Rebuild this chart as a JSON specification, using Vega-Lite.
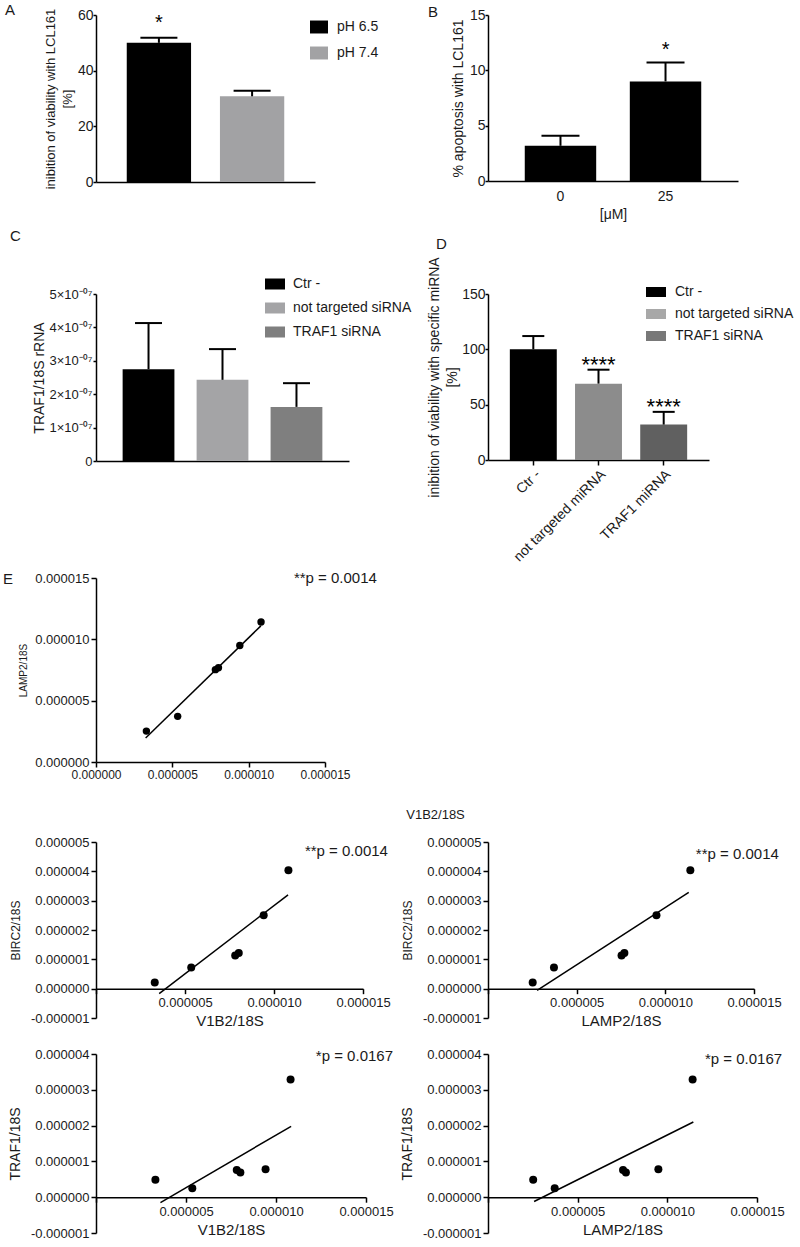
{
  "$schema": "https://vega.github.io/schema/vega-lite/v6.json",
  "padding": {"left": 3, "top": 3, "right": 0, "bottom": 0},
  "background": "#ffffff",
  "columns": 2,
  "spacing": {"row": 0, "column": 122},
  "bounds": "flush",
  "align": "each",
  "resolve": {
    "scale": {"color": "independent", "fill": "independent"},
    "legend": {"color": "independent", "fill": "independent"}
  },
  "datasets": {
    "samples": [
      {"sample": 1, "V1B2": 3.3e-6, "LAMP2": 2.52e-6, "BIRC2": 2.1e-7, "TRAF1": 4.9e-7},
      {"sample": 2, "V1B2": 5.35e-6, "LAMP2": 3.72e-6, "BIRC2": 7.2e-7, "TRAF1": 2.5e-7},
      {"sample": 3, "V1B2": 7.82e-6, "LAMP2": 7.53e-6, "BIRC2": 1.13e-6, "TRAF1": 7.6e-7},
      {"sample": 4, "V1B2": 8.02e-6, "LAMP2": 7.69e-6, "BIRC2": 1.22e-6, "TRAF1": 6.9e-7},
      {"sample": 5, "V1B2": 9.42e-6, "LAMP2": 9.5e-6, "BIRC2": 2.5e-6, "TRAF1": 7.8e-7},
      {"sample": 6, "V1B2": 1.081e-5, "LAMP2": 1.141e-5, "BIRC2": 4.04e-6, "TRAF1": 3.29e-6}
    ],
    "fits": [
      {"panel": "LAMP2~V1B2", "x": 3.25e-6, "y": 1.95e-6},
      {"panel": "LAMP2~V1B2", "x": 1.08e-5, "y": 1.11e-5},
      {"panel": "BIRC2~V1B2", "x": 3.55e-6, "y": -1.7e-7},
      {"panel": "BIRC2~V1B2", "x": 1.079e-5, "y": 3.2e-6},
      {"panel": "BIRC2~LAMP2", "x": 2.77e-6, "y": -6e-8},
      {"panel": "BIRC2~LAMP2", "x": 1.132e-5, "y": 3.28e-6},
      {"panel": "TRAF1~V1B2", "x": 3.58e-6, "y": -1.5e-7},
      {"panel": "TRAF1~V1B2", "x": 1.084e-5, "y": 1.98e-6},
      {"panel": "TRAF1~LAMP2", "x": 2.57e-6, "y": -1.2e-7},
      {"panel": "TRAF1~LAMP2", "x": 1.145e-5, "y": 2.1e-6}
    ]
  },
  "concat": [
    {
      "width": 219, "height": 167,
      "title": {"text": "A", "dx": -91, "offset": -10},
      "data": {"values": [
        {"group": "pH 6.5", "mean": 50.0, "upper": 51.8, "sig": "*"},
        {"group": "pH 7.4", "mean": 30.8, "upper": 32.8, "sig": ""}
      ]},
      "encoding": {
        "x": {"field": "group", "type": "nominal", "sort": null, "title": null,
              "scale": {"paddingInner": 0.31, "paddingOuter": 0.33},
              "axis": {"labels": false, "ticks": false}}
      },
      "layer": [
        {"mark": {"type": "bar", "opacity": 1},
         "encoding": {
           "y": {"field": "mean", "type": "quantitative", "title": ["inibition of viability with LCL161", "[%]"],
                 "scale": {"domain": [0, 60], "nice": false},
                 "axis": {"values": [0, 20, 40, 60], "tickCount": 10, "labelOverlap": false, "labelFontSize": 14, "titleFontSize": 13, "titleLineHeight": 17, "titlePadding": 3, "tickSize": 3, "labelPadding": 0}},
           "color": {"field": "group", "type": "nominal", "sort": null,
                     "scale": {"range": ["#000000", "#a2a2a4"]},
                     "legend": {"title": null, "orient": "none", "legendX": 214, "legendY": 3, "symbolType": "M-1,-0.72H1V0.72H-1Z", "symbolSize": 324, "labelOffset": 9, "rowPadding": 10, "symbolOpacity": 1}}
         }},
        {"mark": {"type": "rule", "color": "#000000", "strokeWidth": 2, "opacity": 1},
         "encoding": {"y": {"field": "mean", "type": "quantitative", "title": ["inibition of viability with LCL161", "[%]"]}, "y2": {"field": "upper"}}},
        {"mark": {"type": "tick", "color": "#000000", "thickness": 2, "size": 37, "opacity": 1},
         "encoding": {"y": {"field": "upper", "type": "quantitative", "title": ["inibition of viability with LCL161", "[%]"]}}},
        {"mark": {"type": "text", "baseline": "alphabetic", "dy": -9, "fontSize": 20, "color": "#000000"},
         "encoding": {"y": {"field": "upper", "type": "quantitative", "title": ["inibition of viability with LCL161", "[%]"]}, "text": {"field": "sig"}}}
      ]
    },
    {
      "width": 250, "height": 166,
      "title": {"text": "B", "dx": -60, "offset": -12},
      "data": {"values": [
        {"dose": "0", "mean": 3.18, "upper": 4.09, "sig": ""},
        {"dose": "25", "mean": 9.0, "upper": 10.7, "sig": "*"}
      ]},
      "encoding": {
        "x": {"field": "dose", "type": "nominal", "sort": null, "title": "[μM]",
              "scale": {"paddingInner": 0.32, "paddingOuter": 0.35},
              "axis": {"labelAngle": 0, "ticks": false, "labelFontSize": 14, "titleFontSize": 14, "labelPadding": 8, "titlePadding": 4}}
      },
      "layer": [
        {"mark": {"type": "bar", "color": "#000000", "opacity": 1},
         "encoding": {
           "y": {"field": "mean", "type": "quantitative", "title": "% apoptosis with LCL161",
                 "scale": {"domain": [0, 15], "nice": false},
                 "axis": {"values": [0, 5, 10, 15], "tickCount": 10, "labelOverlap": false, "labelFontSize": 14, "titleFontSize": 14, "titlePadding": 4, "tickSize": 3, "labelPadding": 0}}
         }},
        {"mark": {"type": "rule", "color": "#000000", "strokeWidth": 2, "opacity": 1},
         "encoding": {"y": {"field": "mean", "type": "quantitative", "title": "% apoptosis with LCL161"}, "y2": {"field": "upper"}}},
        {"mark": {"type": "tick", "color": "#000000", "thickness": 2, "size": 38, "opacity": 1},
         "encoding": {"y": {"field": "upper", "type": "quantitative", "title": "% apoptosis with LCL161"}}},
        {"mark": {"type": "text", "baseline": "alphabetic", "dy": -6.5, "fontSize": 20, "color": "#000000"},
         "encoding": {"y": {"field": "upper", "type": "quantitative", "title": "% apoptosis with LCL161"}, "text": {"field": "sig"}}}
      ]
    },
    {"width": 1, "height": 112, "data": {"values": []}, "mark": "point"},
    {"width": 1, "height": 112, "data": {"values": []}, "mark": "point"},
    {
      "width": 253, "height": 167,
      "title": {"text": "C", "dx": -86, "offset": 30},
      "data": {"values": [
        {"group": "Ctr -", "mean": 2.75e-7, "upper": 4.13e-7},
        {"group": "not targeted siRNA", "mean": 2.43e-7, "upper": 3.35e-7},
        {"group": "TRAF1 siRNA", "mean": 1.62e-7, "upper": 2.33e-7}
      ]},
      "encoding": {
        "x": {"field": "group", "type": "nominal", "sort": null, "title": null,
              "scale": {"paddingInner": 0.3, "paddingOuter": 0.36},
              "axis": {"labels": false, "ticks": false}}
      },
      "layer": [
        {"mark": {"type": "bar", "opacity": 1},
         "encoding": {
           "y": {"field": "mean", "type": "quantitative", "title": "TRAF1/18S rRNA",
                 "scale": {"domain": [0, 5e-7], "nice": false},
                 "axis": {"values": [0, 1e-7, 2e-7, 3e-7, 4e-7, 5e-7], "tickCount": 10, "labelOverlap": false, "labelExpr": "datum.value == 0 ? '0' : format(round(datum.value * 1e7), 'd') + '×10⁻⁰⁷'", "labelFontSize": 13, "titleFontSize": 14, "titlePadding": 3, "tickSize": 3, "labelPadding": 1}},
           "color": {"field": "group", "type": "nominal", "sort": null,
                     "scale": {"range": ["#000000", "#a4a4a6", "#7f7f7f"]},
                     "legend": {"title": null, "orient": "none", "legendX": 169, "legendY": -20, "symbolType": "M-1,-0.55H1V0.55H-1Z", "symbolSize": 400, "labelOffset": 8, "rowPadding": 7, "symbolOpacity": 1}}
         }},
        {"mark": {"type": "rule", "color": "#000000", "strokeWidth": 2, "opacity": 1},
         "encoding": {"y": {"field": "mean", "type": "quantitative", "title": "TRAF1/18S rRNA"}, "y2": {"field": "upper"}}},
        {"mark": {"type": "tick", "color": "#000000", "thickness": 2, "size": 27, "opacity": 1},
         "encoding": {"y": {"field": "upper", "type": "quantitative", "title": "TRAF1/18S rRNA"}}}
      ]
    },
    {
      "width": 221, "height": 166,
      "title": {"text": "D", "dx": -52, "offset": 5},
      "layer": [
        {
          "data": {"values": [
            {"cond": "Ctr -", "mean": 100, "upper": 112, "sig": ""},
            {"cond": "not targeted miRNA", "mean": 69, "upper": 81.6, "sig": "****"},
            {"cond": "TRAF1 miRNA", "mean": 32, "upper": 43.5, "sig": "****"}
          ]},
          "encoding": {
            "x": {"field": "cond", "type": "nominal", "sort": null, "title": null,
                  "scale": {"paddingInner": 0.28, "paddingOuter": 0.335},
                  "axis": {"labelAngle": -45, "labelFontSize": 14, "tickSize": 5, "labelPadding": 2}}
          },
          "layer": [
            {"mark": {"type": "bar", "opacity": 1},
             "encoding": {
               "y": {"field": "mean", "type": "quantitative", "title": ["inibition of viability with specific miRNA", "[%]"],
                     "scale": {"domain": [0, 150], "nice": false},
                     "axis": {"values": [0, 50, 100, 150], "tickCount": 10, "labelOverlap": false, "labelFontSize": 14, "titleFontSize": 14, "titleLineHeight": 18, "titlePadding": 2, "tickSize": 3, "labelPadding": 0}},
               "fill": {"field": "cond", "type": "nominal", "sort": null,
                        "scale": {"range": ["#000000", "#8c8c8c", "#606060"]}, "legend": null}
             }},
            {"mark": {"type": "rule", "color": "#000000", "strokeWidth": 2, "opacity": 1},
             "encoding": {"y": {"field": "mean", "type": "quantitative", "title": ["inibition of viability with specific miRNA", "[%]"]}, "y2": {"field": "upper"}}},
            {"mark": {"type": "tick", "color": "#000000", "thickness": 2, "size": 22, "opacity": 1},
             "encoding": {"y": {"field": "upper", "type": "quantitative", "title": ["inibition of viability with specific miRNA", "[%]"]}}},
            {"mark": {"type": "text", "baseline": "alphabetic", "dy": 2, "fontSize": 22, "color": "#000000"},
             "encoding": {"y": {"field": "upper", "type": "quantitative", "title": ["inibition of viability with specific miRNA", "[%]"]}, "text": {"field": "sig"}}}
          ]
        },
        {
          "data": {"values": [{"legend": "Ctr -"}, {"legend": "not targeted siRNA"}, {"legend": "TRAF1 siRNA"}]},
          "mark": {"type": "point", "filled": true, "opacity": 0},
          "encoding": {
            "color": {"field": "legend", "type": "nominal", "sort": null,
                      "scale": {"range": ["#000000", "#a8a8a8", "#787878"]},
                      "legend": {"title": null, "orient": "none", "legendX": 158, "legendY": -12, "symbolType": "M-1,-0.5H1V0.5H-1Z", "symbolSize": 400, "labelOffset": 9, "rowPadding": 5, "symbolOpacity": 1}}
          }
        }
      ]
    },
    {"width": 1, "height": 117, "data": {"values": []}, "mark": "point"},
    {"width": 1, "height": 1, "data": {"values": []}, "mark": "point"},
    {
      "width": 229, "height": 184,
      "title": {"text": "E", "dx": -93, "offset": -16},
      "layer": [
        {"data": {"name": "samples"},
         "mark": {"type": "point", "filled": true, "color": "#000000", "size": 55, "opacity": 1},
         "encoding": {
           "x": {"field": "V1B2", "type": "quantitative", "title": "V1B2/18S",
                 "scale": {"domain": [0, 1.5e-5], "nice": false, "zero": false},
                 "axis": {"values": [0, 5e-6, 1e-5, 1.5e-5], "tickCount": 10, "labelOverlap": false, "format": ".6f", "labelFontSize": 12, "titleFontSize": 13, "titleX": 339, "titleY": 52, "titleAlign": "center", "titleBaseline": "middle", "titleAngle": 0}},
           "y": {"field": "LAMP2", "type": "quantitative", "title": "LAMP2/18S",
                 "scale": {"domain": [0, 1.5e-5], "nice": false, "zero": false},
                 "axis": {"values": [0, 5e-6, 1e-5, 1.5e-5], "tickCount": 10, "labelOverlap": false, "format": ".6f", "labelFontSize": 13, "titleFontSize": 10, "titlePadding": 6}}
         }},
        {"data": {"name": "fits"}, "transform": [{"filter": "datum.panel === 'LAMP2~V1B2'"}],
         "mark": {"type": "line", "color": "#000000", "strokeWidth": 1.5},
         "encoding": {"x": {"field": "x", "type": "quantitative", "title": "V1B2/18S"}, "y": {"field": "y", "type": "quantitative", "title": "LAMP2/18S"}}},
        {"data": {"values": [{"label": "**p = 0.0014"}]},
         "mark": {"type": "text", "align": "right", "baseline": "middle", "fontSize": 15, "color": "#1a1a1a"},
         "encoding": {"x": {"datum": 1.84e-5}, "y": {"datum": 1.5e-5}, "text": {"field": "label"}}}
      ]
    },
    {"width": 1, "height": 1, "data": {"values": []}, "mark": "point"},
    {"width": 1, "height": 80, "data": {"values": []}, "mark": "point"},
    {"width": 1, "height": 1, "data": {"values": []}, "mark": "point"},
    {
      "width": 267, "height": 176,
      "layer": [
        {"data": {"name": "samples"},
         "mark": {"type": "point", "filled": true, "color": "#000000", "size": 64, "opacity": 1},
         "encoding": {
           "x": {"field": "V1B2", "type": "quantitative", "title": "V1B2/18S",
                 "scale": {"domain": [0, 1.5e-5], "nice": false, "zero": false},
                 "axis": {"values": [0, 5e-6, 1e-5, 1.5e-5], "tickCount": 10, "labelOverlap": false, "labelExpr": "datum.value == 0 ? '' : format(datum.value, '.6f')", "offset": -29.33, "labelFontSize": 13, "titleFontSize": 15, "labelPadding": 3, "titlePadding": 4}},
           "y": {"field": "BIRC2", "type": "quantitative", "title": "BIRC2/18S",
                 "scale": {"domain": [-1e-6, 5e-6], "nice": false, "zero": false},
                 "axis": {"values": [-1e-6, 0, 1e-6, 2e-6, 3e-6, 4e-6, 5e-6], "tickCount": 10, "labelOverlap": false, "labelExpr": "datum.value < 0 ? '-' + format(-datum.value, '.6f') : format(datum.value, '.6f')", "labelFontSize": 13, "titleFontSize": 12, "titlePadding": 8}}
         }},
        {"data": {"name": "fits"}, "transform": [{"filter": "datum.panel === 'BIRC2~V1B2'"}],
         "mark": {"type": "line", "color": "#000000", "strokeWidth": 1.5},
         "encoding": {"x": {"field": "x", "type": "quantitative", "title": "V1B2/18S"}, "y": {"field": "y", "type": "quantitative", "title": "BIRC2/18S"}}},
        {"data": {"values": [{"label": "**p = 0.0014"}]},
         "mark": {"type": "text", "align": "right", "baseline": "middle", "fontSize": 15, "color": "#1a1a1a"},
         "encoding": {"x": {"datum": 1.64e-5}, "y": {"datum": 4.7e-6}, "text": {"field": "label"}}}
      ]
    },
    {
      "width": 266, "height": 176,
      "layer": [
        {"data": {"name": "samples"},
         "mark": {"type": "point", "filled": true, "color": "#000000", "size": 64, "opacity": 1},
         "encoding": {
           "x": {"field": "LAMP2", "type": "quantitative", "title": "LAMP2/18S",
                 "scale": {"domain": [0, 1.5e-5], "nice": false, "zero": false},
                 "axis": {"values": [0, 5e-6, 1e-5, 1.5e-5], "tickCount": 10, "labelOverlap": false, "labelExpr": "datum.value == 0 ? '' : format(datum.value, '.6f')", "offset": -29.33, "labelFontSize": 13, "titleFontSize": 15, "labelPadding": 3, "titlePadding": 4}},
           "y": {"field": "BIRC2", "type": "quantitative", "title": "BIRC2/18S",
                 "scale": {"domain": [-1e-6, 5e-6], "nice": false, "zero": false},
                 "axis": {"values": [-1e-6, 0, 1e-6, 2e-6, 3e-6, 4e-6, 5e-6], "tickCount": 10, "labelOverlap": false, "labelExpr": "datum.value < 0 ? '-' + format(-datum.value, '.6f') : format(datum.value, '.6f')", "labelFontSize": 13, "titleFontSize": 12, "titlePadding": 8}}
         }},
        {"data": {"name": "fits"}, "transform": [{"filter": "datum.panel === 'BIRC2~LAMP2'"}],
         "mark": {"type": "line", "color": "#000000", "strokeWidth": 1.5},
         "encoding": {"x": {"field": "x", "type": "quantitative", "title": "LAMP2/18S"}, "y": {"field": "y", "type": "quantitative", "title": "BIRC2/18S"}}},
        {"data": {"values": [{"label": "**p = 0.0014"}]},
         "mark": {"type": "text", "align": "right", "baseline": "middle", "fontSize": 15, "color": "#1a1a1a"},
         "encoding": {"x": {"datum": 1.64e-5}, "y": {"datum": 4.6e-6}, "text": {"field": "label"}}}
      ]
    },
    {"width": 1, "height": 36, "data": {"values": []}, "mark": "point"},
    {"width": 1, "height": 1, "data": {"values": []}, "mark": "point"},
    {
      "width": 270, "height": 179,
      "layer": [
        {"data": {"name": "samples"},
         "mark": {"type": "point", "filled": true, "color": "#000000", "size": 64, "opacity": 1},
         "encoding": {
           "x": {"field": "V1B2", "type": "quantitative", "title": "V1B2/18S",
                 "scale": {"domain": [0, 1.5e-5], "nice": false, "zero": false},
                 "axis": {"values": [0, 5e-6, 1e-5, 1.5e-5], "tickCount": 10, "labelOverlap": false, "labelExpr": "datum.value == 0 ? '' : format(datum.value, '.6f')", "offset": -35.8, "labelFontSize": 13, "titleFontSize": 15, "labelPadding": 3, "titlePadding": 4}},
           "y": {"field": "TRAF1", "type": "quantitative", "title": "TRAF1/18S",
                 "scale": {"domain": [-1e-6, 4e-6], "nice": false, "zero": false},
                 "axis": {"values": [-1e-6, 0, 1e-6, 2e-6, 3e-6, 4e-6], "tickCount": 10, "labelOverlap": false, "labelExpr": "datum.value < 0 ? '-' + format(-datum.value, '.6f') : format(datum.value, '.6f')", "labelFontSize": 13, "titleFontSize": 14, "titlePadding": 8}}
         }},
        {"data": {"name": "fits"}, "transform": [{"filter": "datum.panel === 'TRAF1~V1B2'"}],
         "mark": {"type": "line", "color": "#000000", "strokeWidth": 1.5},
         "encoding": {"x": {"field": "x", "type": "quantitative", "title": "V1B2/18S"}, "y": {"field": "y", "type": "quantitative", "title": "TRAF1/18S"}}},
        {"data": {"values": [{"label": "*p = 0.0167"}]},
         "mark": {"type": "text", "align": "right", "baseline": "middle", "fontSize": 15, "color": "#1a1a1a"},
         "encoding": {"x": {"datum": 1.65e-5}, "y": {"datum": 3.95e-6}, "text": {"field": "label"}}}
      ]
    },
    {
      "width": 269, "height": 179,
      "layer": [
        {"data": {"name": "samples"},
         "mark": {"type": "point", "filled": true, "color": "#000000", "size": 64, "opacity": 1},
         "encoding": {
           "x": {"field": "LAMP2", "type": "quantitative", "title": "LAMP2/18S",
                 "scale": {"domain": [0, 1.5e-5], "nice": false, "zero": false},
                 "axis": {"values": [0, 5e-6, 1e-5, 1.5e-5], "tickCount": 10, "labelOverlap": false, "labelExpr": "datum.value == 0 ? '' : format(datum.value, '.6f')", "offset": -35.8, "labelFontSize": 13, "titleFontSize": 15, "labelPadding": 3, "titlePadding": 4}},
           "y": {"field": "TRAF1", "type": "quantitative", "title": "TRAF1/18S",
                 "scale": {"domain": [-1e-6, 4e-6], "nice": false, "zero": false},
                 "axis": {"values": [-1e-6, 0, 1e-6, 2e-6, 3e-6, 4e-6], "tickCount": 10, "labelOverlap": false, "labelExpr": "datum.value < 0 ? '-' + format(-datum.value, '.6f') : format(datum.value, '.6f')", "labelFontSize": 13, "titleFontSize": 14, "titlePadding": 8}}
         }},
        {"data": {"name": "fits"}, "transform": [{"filter": "datum.panel === 'TRAF1~LAMP2'"}],
         "mark": {"type": "line", "color": "#000000", "strokeWidth": 1.5},
         "encoding": {"x": {"field": "x", "type": "quantitative", "title": "LAMP2/18S"}, "y": {"field": "y", "type": "quantitative", "title": "TRAF1/18S"}}},
        {"data": {"values": [{"label": "*p = 0.0167"}]},
         "mark": {"type": "text", "align": "right", "baseline": "middle", "fontSize": 15, "color": "#1a1a1a"},
         "encoding": {"x": {"datum": 1.64e-5}, "y": {"datum": 3.86e-6}, "text": {"field": "label"}}}
      ]
    }
  ],
  "config": {
    "view": {"stroke": null},
    "font": "Liberation Sans",
    "axis": {"grid": false, "domainColor": "#000000", "domainWidth": 1.5, "tickColor": "#000000", "tickWidth": 1.5, "tickSize": 5,
             "labelColor": "#1a1a1a", "titleColor": "#1a1a1a", "labelFont": "Liberation Sans", "titleFont": "Liberation Sans",
             "titleFontWeight": "normal", "labelFontSize": 13, "titleFontSize": 14, "labelPadding": 2, "labelOverlap": false, "labelFlush": false, "labelBound": false},
    "legend": {"labelFont": "Liberation Sans", "labelFontSize": 14, "labelColor": "#1a1a1a", "padding": 0, "symbolStrokeWidth": 0},
    "title": {"font": "Liberation Sans", "fontWeight": "normal", "fontSize": 15, "color": "#1a1a1a", "anchor": "start", "frame": "group"}
  }
}
